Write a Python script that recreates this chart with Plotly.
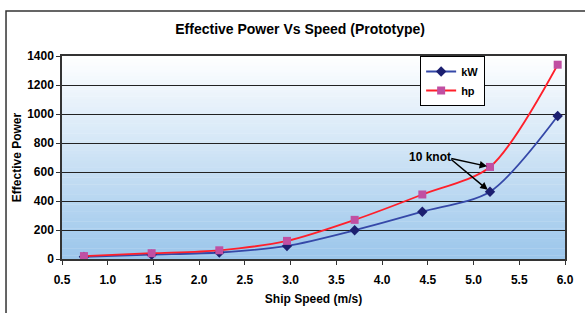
import plotly.graph_objects as go

speed = [0.74, 1.48, 2.22, 2.96, 3.70, 4.44, 5.18, 5.92]
kw = [15, 30, 45, 90, 198, 326, 464, 986]
hp = [20, 40, 60, 125, 270, 445, 635, 1340]

title = "Effective Power Vs Speed (Prototype)"
x_title = "Ship Speed (m/s)"
y_title = "Effective Power"
note = "10 knot"

FONT = "Liberation Sans, Arial, sans-serif"

fig = go.Figure()
fig.add_trace(go.Scatter(
    x=speed, y=kw, name="kW", mode="lines+markers",
    line=dict(color="#3548a8", width=1.8, shape="spline", smoothing=0.8),
    marker=dict(symbol="diamond", size=8, color="#1c1f70"),
))
fig.add_trace(go.Scatter(
    x=speed, y=hp, name="hp", mode="lines+markers",
    line=dict(color="#ff1f2a", width=1.8, shape="spline", smoothing=0.8),
    marker=dict(symbol="square", size=8, color="#c04fa2"),
))

# gradient background in plot area
shapes = []
n = 60
top = (255, 255, 255)
bot = (155, 198, 235)
for i in range(n):
    t = (i + 0.5) / n
    c = tuple(int(round(top[k] + (bot[k] - top[k]) * t)) for k in range(3))
    shapes.append(dict(type="rect", xref="x domain", yref="y domain",
                       x0=0, x1=1, y0=1 - (i + 1) / n, y1=1 - i / n + 0.002,
                       fillcolor="rgb(%d,%d,%d)" % c, line=dict(width=0), layer="below"))
# outer chart frame
shapes.append(dict(type="rect", xref="paper", yref="paper",
                   x0=-0.1113, x1=1.2, y0=-0.5, y1=1.2217,
                   line=dict(color="#333333", width=1.5), fillcolor="rgba(0,0,0,0)", layer="above"))

annotations = [
    dict(x=speed[6], y=hp[6], xref="x", yref="y", ax=4.74, ay=695, axref="x", ayref="y",
         text="", showarrow=True, arrowhead=2, arrowsize=1, arrowwidth=1.5, arrowcolor="#000000", standoff=3),
    dict(x=speed[6], y=kw[6], xref="x", yref="y", ax=4.74, ay=695, axref="x", ayref="y",
         text="", showarrow=True, arrowhead=2, arrowsize=1, arrowwidth=1.5, arrowcolor="#000000", standoff=3),
    dict(x=4.52, y=705, xref="x", yref="y", text="<b>" + note + "</b>", showarrow=False,
         font=dict(family=FONT, size=12, color="#000000")),
]

fig.update_layout(
    width=585, height=313,
    margin=dict(l=62, r=20, t=56, b=54, autoexpand=False),
    paper_bgcolor="white", plot_bgcolor="white",
    title=dict(text="<b>" + title + "</b>", x=0.513, xanchor="center", y=0.907, yanchor="middle",
               font=dict(family=FONT, size=14, color="#000000")),
    font=dict(family=FONT, size=12, color="#000000"),
    shapes=shapes, annotations=annotations,
    showlegend=True,
    legend=dict(x=0.712, y=1.0, xanchor="left", yanchor="top",
                bgcolor="white", bordercolor="#000000", borderwidth=1,
                font=dict(family=FONT, size=11, color="#000000"),
                itemwidth=30, tracegroupgap=0),
)
fig.update_xaxes(range=[0.5, 6.0], dtick=0.5, tick0=0.5, tickformat=".1f", automargin=False,
                 showgrid=False, zeroline=False, showline=True, linecolor="#333333", linewidth=1.5,
                 mirror=True, ticks="outside", ticklen=4, tickcolor="#333333",
                 ticklabelstandoff=5,
                 tickfont=dict(family=FONT, size=12, color="#000000"),
                 title=dict(text="<b>" + x_title + "</b>", standoff=8,
                            font=dict(family=FONT, size=12, color="#000000")))
fig.update_yaxes(range=[0, 1400], dtick=200, showgrid=True, gridcolor="#222222", gridwidth=1,
                 automargin=False,
                 zeroline=False, showline=True, linecolor="#333333", linewidth=1.5, mirror=True,
                 ticks="outside", ticklen=4, tickcolor="#333333",
                 tickfont=dict(family=FONT, size=12, color="#000000"),
                 title=dict(text="<b>" + y_title + "</b>", standoff=3,
                            font=dict(family=FONT, size=12, color="#000000")))
fig.for_each_xaxis(lambda a: a.update(tickprefix="<b>", ticksuffix="</b>"))
fig.for_each_yaxis(lambda a: a.update(tickprefix="<b>", ticksuffix="</b>"))
fig.for_each_trace(lambda t: t.update(name="<b>" + t.name + "</b>"))

fig.write_html("out.html", config={"displayModeBar": False},
               post_script="document.body.style.margin='0';document.body.style.padding='0';")
